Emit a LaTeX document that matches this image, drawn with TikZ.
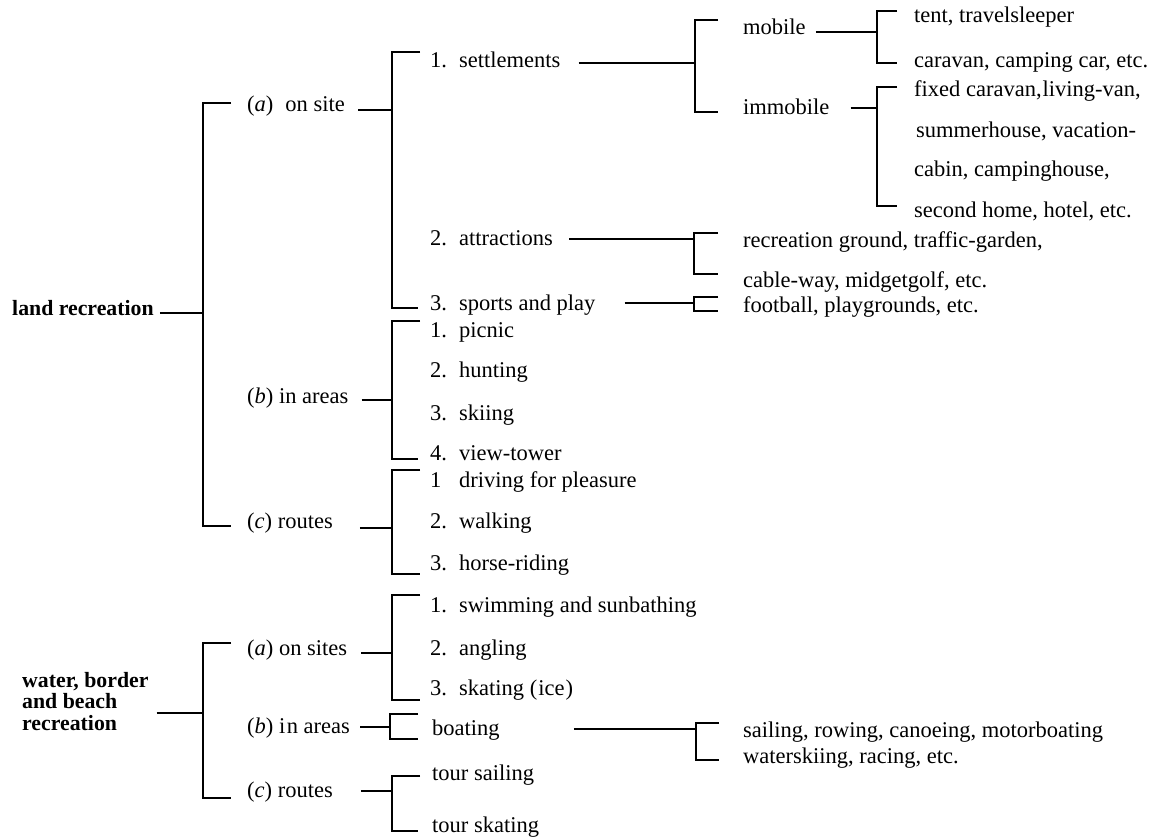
\documentclass[tikz,border=0pt]{standalone}
\usepackage{fontspec}
\setmainfont{Liberation Serif}
\newcommand\nbx[1]{\makebox[29pt][l]{#1}}
\begin{document}
\begin{tikzpicture}[x=1pt,y=-1pt,
  txt/.style={anchor=base west,inner sep=0pt,font=\fontsize{22.5}{26}\selectfont},
  hd/.style={anchor=base west,inner sep=0pt,font=\fontsize{21.8}{21.5}\selectfont\bfseries},
  ln/.style={line width=1.4pt}]
\useasboundingbox (0,0) rectangle (1161,837);

% level 1
\node[hd] (LR) at (12,315) {land recreation};
\node[hd,anchor=north west,align=left] (WB) at (22,672) {water, border\\and beach\\recreation};

% level 2
\node[txt] (Aa) at (247,112) {(\textit{a})\hspace{12pt}on site};
\node[txt] (Ab) at (247,403) {(\textit{b}) in areas};
\node[txt] (Ac) at (247,528) {(\textit{c}) routes};
\node[txt] (Wa) at (247,655) {(\textit{a}) on sites};
\node[txt] (Wb) at (247,733) {(\textit{b}) i\kern1.5pt n areas};
\node[txt] (Wc) at (247,797) {(\textit{c}) routes};

% level 3
\node[txt] (S1) at (430,68) {\nbx{1.}settlements};
\node[txt] (S2) at (430,245) {\nbx{2.}attractions};
\node[txt] (S3) at (430,310) {\nbx{3.}sports and play};
\node[txt] (B1) at (430,337) {\nbx{1.}picnic};
\node[txt] (B2) at (430,377) {\nbx{2.}hunting};
\node[txt] (B3) at (430,420) {\nbx{3.}skiing};
\node[txt] (B4) at (430,460) {\nbx{4.}view-tower};
\node[txt] (C1) at (430,487) {\nbx{1}driving for pleasure};
\node[txt] (C2) at (430,528) {\nbx{2.}walking};
\node[txt] (C3) at (430,570) {\nbx{3.}horse-riding};
\node[txt] (W1) at (430,612) {\nbx{1.}swimming and sunbathing};
\node[txt] (W2) at (430,655) {\nbx{2.}angling};
\node[txt] (W3) at (430,695) {\nbx{3.}skating (\kern1pt ice\kern1pt)};
\node[txt] (Bt) at (432,735) {boating};
\node[txt] (T1) at (432,780) {tour sailing};
\node[txt] (T2) at (432,832) {tour skating};

% level 4
\node[txt] (Mo) at (743,35) {mobile};
\node[txt] (Im) at (743,115) {immobile};
\node[txt] (R1) at (743,247) {recreation ground, traffic-garden,};
\node[txt] (R2) at (743,287) {cable-way, midgetgolf, etc.};
\node[txt] (F1) at (743,312) {football, playgrounds, etc.};
\node[txt] (Sa) at (743,737) {sailing, rowing, canoeing, motorboating};
\node[txt] (Wk) at (743,763) {waterskiing, racing, etc.};

% level 5
\node[txt] (M1) at (914,23) {tent, travelsleeper};
\node[txt] (M2) at (914,68) {caravan, camping car, etc.};
\node[txt] (I1) at (914,97) {fixed caravan,\kern1pt living-van,};
\node[txt] (I2) at (916,138) {summerhouse, vacation-};
\node[txt] (I3) at (914,177) {cabin, campinghouse,};
\node[txt] (I4) at (914,217) {second home, hotel, etc.};

% junctions
\coordinate (jLR) at (203,313);
\coordinate (jWB) at (203,713);
\coordinate (jAa) at (392,110);
\coordinate (jAb) at (392,400);
\coordinate (jAc) at (392,528);
\coordinate (jWa) at (392,653);
\coordinate (jWb) at (390,727);
\coordinate (jWc) at (392,791);
\coordinate (jS1) at (695,63);
\coordinate (jS2) at (694,239);
\coordinate (jS3) at (694,303);
\coordinate (jBt) at (696,729);
\coordinate (jMo) at (877,32);
\coordinate (jIm) at (877,108);

% stems
\draw[ln] ([xshift=6pt]LR.east |- jLR) -- (jLR);
\draw[ln] ([xshift=8pt]WB.east |- jWB) -- (jWB);
\draw[ln] ([xshift=13pt]Aa.east |- jAa) -- (jAa);
\draw[ln] ([xshift=13pt]Ab.east |- jAb) -- (jAb);
\draw[ln] ([xshift=27pt]Ac.east |- jAc) -- (jAc);
\draw[ln] ([xshift=14pt]Wa.east |- jWa) -- (jWa);
\draw[ln] ([xshift=10pt]Wb.east |- jWb) -- (jWb);
\draw[ln] ([xshift=28pt]Wc.east |- jWc) -- (jWc);
\draw[ln] ([xshift=18pt]S1.east |- jS1) -- (jS1);
\draw[ln] ([xshift=16pt]S2.east |- jS2) -- (jS2);
\draw[ln] ([xshift=29pt]S3.east |- jS3) -- (jS3);
\draw[ln] ([xshift=74pt]Bt.east |- jBt) -- (jBt);
\draw[ln] ([xshift=10pt]Mo.east |- jMo) -- (jMo);
\draw[ln] ([xshift=21pt]Im.east |- jIm) -- (jIm);

% brackets
\draw[ln] (231,103) -| (jLR) |- (231,526);
\draw[ln] (231,643) -| (jWB) |- (231,798);
\draw[ln] (420,52) -| (jAa) |- (418,308);
\draw[ln] (420,321) -| (jAb) |- (418,459);
\draw[ln] (420,470) -| (jAc) |- (420,574);
\draw[ln] (420,595) -| (jWa) |- (420,700);
\draw[ln] (418,714) -| (jWb) |- (418,739);
\draw[ln] (420,776) -| (jWc) |- (418,831);
\draw[ln] (718,20) -| (jS1) |- (718,112);
\draw[ln] (718,233) -| (jS2) |- (718,274);
\draw[ln] (718,297) -| (jS3) |- (718,311);
\draw[ln] (719,723) -| (jBt) |- (719,760);
\draw[ln] (897,11) -| (jMo) |- (897,63);
\draw[ln] (897,87) -| (jIm) |- (897,206);
\end{tikzpicture}
\end{document}
